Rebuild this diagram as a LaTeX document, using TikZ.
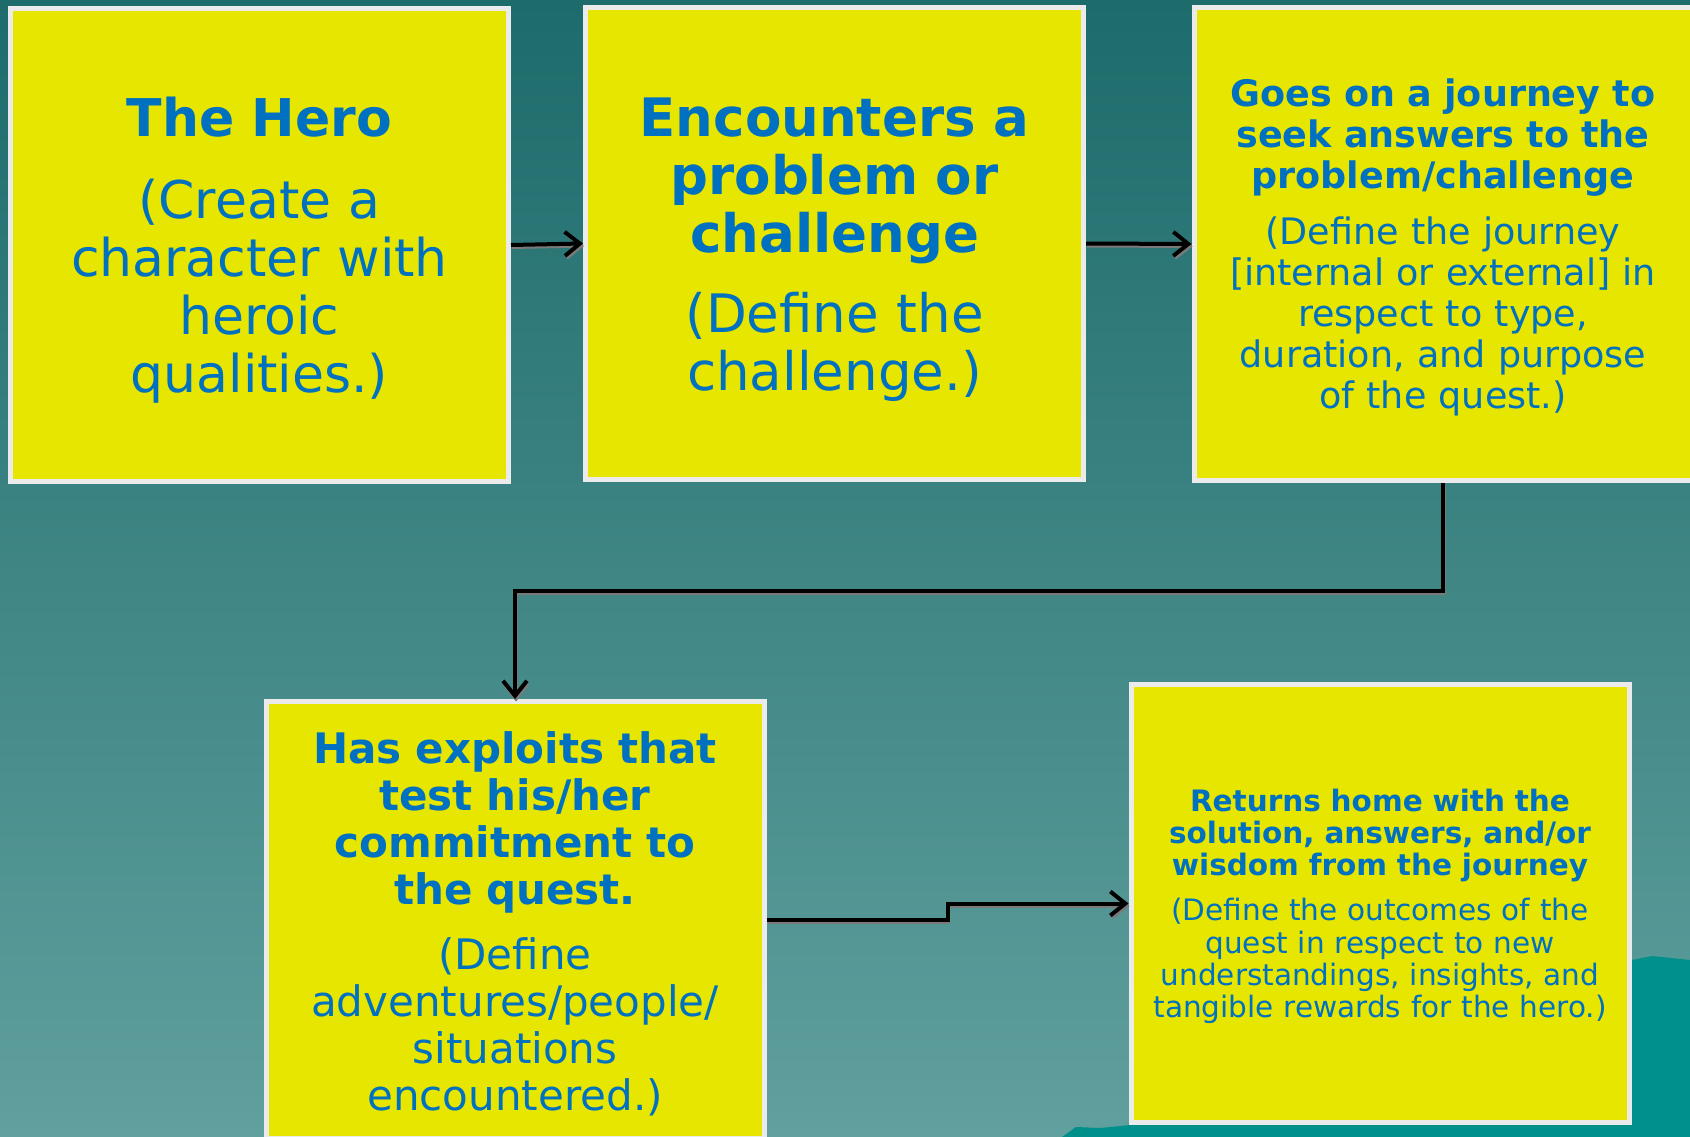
\documentclass[tikz,border=0pt]{standalone}
\usepackage{fontspec}
\setmainfont{DejaVu Sans}
\usetikzlibrary{arrows.meta}

\definecolor{bgtop}{HTML}{1D6B6B}
\definecolor{bgmid}{HTML}{4A8A88}
\definecolor{bgbot}{HTML}{60A09E}
\definecolor{hill}{HTML}{00908B}
\definecolor{stageyellow}{HTML}{E6E600}
\definecolor{stageblue}{HTML}{0070C0}
\definecolor{boxline}{HTML}{EBEBEB}
\definecolor{shadowgray}{HTML}{7A7A7A}

\newcommand{\stagestrut}{\rule{0pt}{0.95em}}

\tikzset{
  stage/.style={draw=boxline, line width=5pt, fill=stageyellow, text=stageblue,
    align=center, text width=480pt, minimum width=498pt, inner sep=0pt},
  flow/.style={line width=4pt, -{Straight Barb[length=15pt,width=24pt]},
    preaction={draw=shadowgray, line width=3pt, transform canvas={shift={(1pt,-2.5pt)}}}},
}

\begin{document}
\begin{tikzpicture}[x=1pt, y=-1pt]
                \useasboundingbox (0,0) rectangle (1690,1137);
                \shade[top color=bgtop, middle color=bgmid, bottom color=bgbot] (0,0) rectangle (1690,1137);
                \fill[hill] (1062,1137) -- (1076,1127) -- (1100,1128) -- (1140,1124) -- (1632,960) -- (1652,956) -- (1690,960) -- (1690,1137) -- cycle;

                \node[stage, minimum height=473pt, font=\fontsize{52}{58}\selectfont] (hero) at (259.5,245)
                    {\stagestrut\bfseries The Hero\\[24pt]\mdseries (Create a\\ character with\\ heroic\\ qualities.)};
                \node[stage, minimum height=472pt, font=\fontsize{53}{58}\selectfont] (problem) at (834.5,243.5)
                    {\stagestrut\bfseries Encounters a\\ problem or\\ challenge\\[22pt]\mdseries (Define the\\ challenge.)};
                \node[stage, minimum height=473pt, font=\fontsize{36.5}{41}\selectfont] (journey) at (1443,244)
                    {\stagestrut\bfseries Goes on a journey to\\ seek answers to the\\ problem/challenge\\[15pt]\mdseries
                     (Define the journey\\ {[}internal or external] in\\ respect to type,\\ duration, and purpose\\ of the quest.)};
                \node[stage, minimum height=437pt, font=\fontsize{42}{47}\selectfont] (exploits) at (515,920)
                    {\stagestrut\bfseries Has exploits that\\ test his/her\\ commitment to\\ the quest.\\[18pt]\mdseries
                     (Define\\ adventures/people/\\ situations\\ encountered.)};
                \node[stage, minimum height=438pt, font=\fontsize{29.5}{32.3}\selectfont] (returns) at (1380,903.5)
                    {\stagestrut\bfseries Returns home with the\\ solution, answers, and/or\\ wisdom from the journey\\[13pt]\mdseries
                     (Define the outcomes of the\\ quest in respect to new\\ understandings, insights, and\\ tangible rewards for the hero.)};

                \draw[flow] (hero.east) -- (problem.west);
                \draw[flow] (problem.east) -- (journey.west);
                \draw[flow] (journey.south) -- ++(0,108) -| (exploits.north);
                \draw[flow] (exploits.east) -- ++(181,0) |- (returns.west);
            \end{tikzpicture}
\end{document}
